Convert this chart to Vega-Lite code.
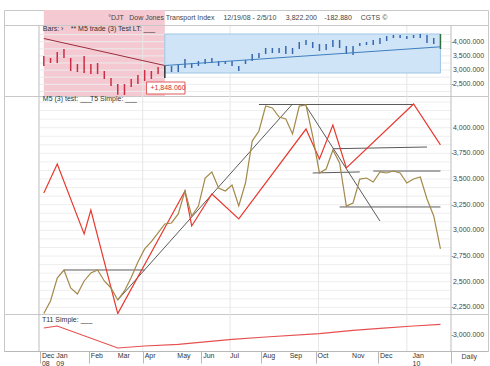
{
  "$schema": "https://vega.github.io/schema/vega-lite/v6.json",
  "padding": {"left": 3, "top": 9, "right": 0, "bottom": 0},
  "spacing": 0,
  "bounds": "flush",
  "background": "white",
  "config": {
    "view": {"stroke": "#c8c8c8", "strokeWidth": 1},
    "font": "Liberation Sans",
    "text": {"font": "Liberation Sans", "fontSize": 7}
  },
  "datasets": {
    "bars": [
      {"date": "2008-12-19", "high": 3497, "low": 3145, "phase": "down"},
      {"date": "2008-12-26", "high": 3426, "low": 3250, "phase": "down"},
      {"date": "2009-01-02", "high": 3637, "low": 3250, "phase": "down"},
      {"date": "2009-01-09", "high": 3743, "low": 3426, "phase": "down"},
      {"date": "2009-01-16", "high": 3426, "low": 2969, "phase": "down"},
      {"date": "2009-01-23", "high": 3215, "low": 2933, "phase": "down"},
      {"date": "2009-01-30", "high": 3497, "low": 2898, "phase": "down"},
      {"date": "2009-02-06", "high": 3215, "low": 2863, "phase": "down"},
      {"date": "2009-02-13", "high": 3250, "low": 2863, "phase": "down"},
      {"date": "2009-02-20", "high": 2969, "low": 2687, "phase": "down"},
      {"date": "2009-02-27", "high": 2722, "low": 2441, "phase": "down"},
      {"date": "2009-03-06", "high": 2511, "low": 2134, "phase": "down"},
      {"date": "2009-03-13", "high": 2511, "low": 2124, "phase": "down"},
      {"date": "2009-03-20", "high": 2687, "low": 2405, "phase": "down"},
      {"date": "2009-03-27", "high": 2828, "low": 2511, "phase": "down"},
      {"date": "2009-04-03", "high": 3004, "low": 2617, "phase": "down"},
      {"date": "2009-04-10", "high": 2969, "low": 2687, "phase": "down"},
      {"date": "2009-04-17", "high": 3109, "low": 2863, "phase": "down"},
      {"date": "2009-04-24", "high": 3145, "low": 2722, "phase": "pivot"},
      {"date": "2009-05-01", "high": 3145, "low": 2933, "phase": "up"},
      {"date": "2009-05-08", "high": 3215, "low": 2933, "phase": "up"},
      {"date": "2009-05-15", "high": 3391, "low": 3074, "phase": "up"},
      {"date": "2009-05-22", "high": 3250, "low": 3074, "phase": "up"},
      {"date": "2009-05-29", "high": 3321, "low": 3145, "phase": "up"},
      {"date": "2009-06-05", "high": 3391, "low": 3215, "phase": "up"},
      {"date": "2009-06-12", "high": 3426, "low": 3250, "phase": "up"},
      {"date": "2009-06-19", "high": 3321, "low": 3145, "phase": "up"},
      {"date": "2009-06-26", "high": 3321, "low": 3215, "phase": "up"},
      {"date": "2009-07-03", "high": 3321, "low": 3145, "phase": "up"},
      {"date": "2009-07-10", "high": 3145, "low": 2969, "phase": "up"},
      {"date": "2009-07-17", "high": 3356, "low": 3215, "phase": "up"},
      {"date": "2009-07-24", "high": 3567, "low": 3321, "phase": "up"},
      {"date": "2009-07-31", "high": 3602, "low": 3426, "phase": "up"},
      {"date": "2009-08-07", "high": 3778, "low": 3567, "phase": "up"},
      {"date": "2009-08-14", "high": 3778, "low": 3602, "phase": "up"},
      {"date": "2009-08-21", "high": 3778, "low": 3602, "phase": "up"},
      {"date": "2009-08-28", "high": 3849, "low": 3567, "phase": "up"},
      {"date": "2009-09-04", "high": 3778, "low": 3567, "phase": "up"},
      {"date": "2009-09-11", "high": 3989, "low": 3743, "phase": "up"},
      {"date": "2009-09-18", "high": 4060, "low": 3884, "phase": "up"},
      {"date": "2009-09-25", "high": 3989, "low": 3778, "phase": "up"},
      {"date": "2009-10-02", "high": 3919, "low": 3673, "phase": "up"},
      {"date": "2009-10-09", "high": 3919, "low": 3708, "phase": "up"},
      {"date": "2009-10-16", "high": 4060, "low": 3813, "phase": "up"},
      {"date": "2009-10-23", "high": 4060, "low": 3778, "phase": "up"},
      {"date": "2009-10-30", "high": 3849, "low": 3567, "phase": "up"},
      {"date": "2009-11-06", "high": 3849, "low": 3532, "phase": "up"},
      {"date": "2009-11-13", "high": 3954, "low": 3849, "phase": "up"},
      {"date": "2009-11-20", "high": 3989, "low": 3884, "phase": "up"},
      {"date": "2009-11-27", "high": 4060, "low": 3884, "phase": "up"},
      {"date": "2009-12-04", "high": 4130, "low": 3919, "phase": "up"},
      {"date": "2009-12-11", "high": 4201, "low": 4025, "phase": "up"},
      {"date": "2009-12-18", "high": 4236, "low": 4130, "phase": "up"},
      {"date": "2009-12-25", "high": 4236, "low": 4130, "phase": "up"},
      {"date": "2010-01-01", "high": 4201, "low": 4095, "phase": "up"},
      {"date": "2010-01-08", "high": 4236, "low": 4130, "phase": "up"},
      {"date": "2010-01-15", "high": 4271, "low": 4130, "phase": "up"},
      {"date": "2010-01-22", "high": 4236, "low": 3954, "phase": "up"},
      {"date": "2010-01-29", "high": 4130, "low": 3919, "phase": "up"},
      {"date": "2010-02-05", "high": 4271, "low": 3743, "phase": "last"}
    ],
    "t5": [
      {"date": "2008-12-19", "value": 2190}, {"date": "2008-12-26", "value": 2312},
      {"date": "2009-01-02", "value": 2536}, {"date": "2009-01-09", "value": 2614},
      {"date": "2009-01-16", "value": 2439}, {"date": "2009-01-23", "value": 2380},
      {"date": "2009-01-30", "value": 2507}, {"date": "2009-02-06", "value": 2585},
      {"date": "2009-02-13", "value": 2614}, {"date": "2009-02-20", "value": 2507},
      {"date": "2009-02-27", "value": 2439}, {"date": "2009-03-06", "value": 2322},
      {"date": "2009-03-13", "value": 2410}, {"date": "2009-03-20", "value": 2540},
      {"date": "2009-03-27", "value": 2692}, {"date": "2009-04-03", "value": 2819},
      {"date": "2009-04-10", "value": 2890}, {"date": "2009-04-17", "value": 2975},
      {"date": "2009-04-24", "value": 3062}, {"date": "2009-05-01", "value": 3072},
      {"date": "2009-05-08", "value": 3160}, {"date": "2009-05-15", "value": 3383},
      {"date": "2009-05-22", "value": 3140}, {"date": "2009-05-29", "value": 3237},
      {"date": "2009-06-05", "value": 3510}, {"date": "2009-06-12", "value": 3569},
      {"date": "2009-06-19", "value": 3413}, {"date": "2009-06-26", "value": 3383},
      {"date": "2009-07-03", "value": 3442}, {"date": "2009-07-10", "value": 3237},
      {"date": "2009-07-17", "value": 3461}, {"date": "2009-07-24", "value": 3870},
      {"date": "2009-07-31", "value": 3968}, {"date": "2009-08-07", "value": 4211},
      {"date": "2009-08-14", "value": 4192}, {"date": "2009-08-21", "value": 4104},
      {"date": "2009-08-28", "value": 4085}, {"date": "2009-09-04", "value": 3939},
      {"date": "2009-09-11", "value": 4211}, {"date": "2009-09-18", "value": 4221},
      {"date": "2009-09-25", "value": 3919}, {"date": "2009-10-02", "value": 3559},
      {"date": "2009-10-09", "value": 3598}, {"date": "2009-10-16", "value": 3783},
      {"date": "2009-10-23", "value": 3656}, {"date": "2009-10-30", "value": 3237},
      {"date": "2009-11-06", "value": 3267}, {"date": "2009-11-13", "value": 3500},
      {"date": "2009-11-20", "value": 3510}, {"date": "2009-11-27", "value": 3471},
      {"date": "2009-12-04", "value": 3569}, {"date": "2009-12-11", "value": 3559},
      {"date": "2009-12-18", "value": 3578}, {"date": "2009-12-25", "value": 3559},
      {"date": "2010-01-01", "value": 3461}, {"date": "2010-01-08", "value": 3500},
      {"date": "2010-01-15", "value": 3520}, {"date": "2010-01-22", "value": 3306},
      {"date": "2010-01-29", "value": 3140}, {"date": "2010-02-05", "value": 2819}
    ],
    "m5": [
      {"date": "2008-12-19", "value": 3364}, {"date": "2009-01-02", "value": 3646},
      {"date": "2009-01-30", "value": 2965}, {"date": "2009-02-06", "value": 3198},
      {"date": "2009-03-06", "value": 2190}, {"date": "2009-05-15", "value": 3383},
      {"date": "2009-05-22", "value": 3043}, {"date": "2009-06-12", "value": 3354},
      {"date": "2009-07-10", "value": 3111}, {"date": "2009-09-18", "value": 3987},
      {"date": "2009-10-02", "value": 3695}, {"date": "2009-10-16", "value": 4026},
      {"date": "2009-10-30", "value": 3608}, {"date": "2010-01-08", "value": 4231},
      {"date": "2010-02-05", "value": 3832}
    ],
    "trend": [
      {"seg": 1, "date": "2009-01-09", "value": 2614}, {"seg": 1, "date": "2009-04-03", "value": 2614},
      {"seg": 2, "date": "2009-03-06", "value": 2322}, {"seg": 2, "date": "2009-09-04", "value": 4231},
      {"seg": 3, "date": "2009-07-31", "value": 4226}, {"seg": 3, "date": "2010-01-08", "value": 4226},
      {"seg": 4, "date": "2009-09-18", "value": 4211}, {"seg": 4, "date": "2009-12-04", "value": 3091},
      {"seg": 5, "date": "2009-10-16", "value": 3795}, {"seg": 5, "date": "2010-01-22", "value": 3812},
      {"seg": 6, "date": "2009-09-25", "value": 3559}, {"seg": 6, "date": "2009-11-13", "value": 3569},
      {"seg": 7, "date": "2009-11-27", "value": 3578}, {"seg": 7, "date": "2010-02-05", "value": 3578},
      {"seg": 8, "date": "2009-10-23", "value": 3228}, {"seg": 8, "date": "2010-02-05", "value": 3228}
    ],
    "t11": [
      {"date": "2008-12-19", "value": 3070}, {"date": "2009-01-02", "value": 3090},
      {"date": "2009-03-06", "value": 2870}, {"date": "2009-04-03", "value": 2890},
      {"date": "2009-05-08", "value": 2907}, {"date": "2009-07-03", "value": 2957},
      {"date": "2009-08-07", "value": 2980}, {"date": "2009-10-02", "value": 3013},
      {"date": "2009-11-06", "value": 3047}, {"date": "2009-12-04", "value": 3067},
      {"date": "2010-01-08", "value": 3090}, {"date": "2010-02-05", "value": 3107}
    ],
    "quarters": [{"date": "2009-04-01"}, {"date": "2009-07-01"}, {"date": "2009-10-01"}, {"date": "2010-01-01"}],
    "borders": [{"date": "2008-12-14"}, {"date": "2010-02-16"}],
    "gridMain": [
      {"value": 2250}, {"value": 2333.3}, {"value": 2416.7}, {"value": 2500}, {"value": 2583.3},
      {"value": 2666.7}, {"value": 2750}, {"value": 2833.3}, {"value": 2916.7}, {"value": 3000},
      {"value": 3083.3}, {"value": 3166.7}, {"value": 3250}, {"value": 3333.3}, {"value": 3416.7},
      {"value": 3500}, {"value": 3583.3}, {"value": 3666.7}, {"value": 3750}, {"value": 3833.3},
      {"value": 3916.7}, {"value": 4000}, {"value": 4083.3}, {"value": 4166.7}, {"value": 4250}
    ],
    "gridTop": [
      {"value": 2250}, {"value": 2500}, {"value": 2750}, {"value": 3000}, {"value": 3250},
      {"value": 3500}, {"value": 3750}, {"value": 4000}, {"value": 4250}
    ],
    "ticksTop": [{"date": "2010-02-18", "value": 2500}, {"date": "2010-02-18", "value": 3000}, {"date": "2010-02-18", "value": 3500}, {"date": "2010-02-18", "value": 4000}],
    "ticksMain": [
      {"date": "2010-02-18", "value": 2250}, {"date": "2010-02-18", "value": 2500}, {"date": "2010-02-18", "value": 2750}, {"date": "2010-02-18", "value": 3000},
      {"date": "2010-02-18", "value": 3250}, {"date": "2010-02-18", "value": 3500}, {"date": "2010-02-18", "value": 3750}, {"date": "2010-02-18", "value": 4000}
    ],
    "months": [
      {"date": "2008-12-17", "label": "Dec\n08"}, {"date": "2009-01-01", "label": "Jan\n09"},
      {"date": "2009-02-06", "label": "Feb"}, {"date": "2009-03-06", "label": "Mar"},
      {"date": "2009-04-03", "label": "Apr"}, {"date": "2009-05-07", "label": "May"},
      {"date": "2009-06-03", "label": "Jun"}, {"date": "2009-07-01", "label": "Jul"},
      {"date": "2009-08-04", "label": "Aug"}, {"date": "2009-09-01", "label": "Sep"},
      {"date": "2009-09-30", "label": "Oct"}, {"date": "2009-11-05", "label": "Nov"},
      {"date": "2009-12-04", "label": "Dec"}, {"date": "2010-01-07", "label": "Jan\n10"}
    ],
    "titles": [
      {"date": "2009-02-24", "value": 4834, "label": "°DJT"},
      {"date": "2009-03-18", "value": 4834, "label": "Dow Jones Transport Index"},
      {"date": "2009-06-24", "value": 4834, "label": "12/19/08 - 2/5/10"},
      {"date": "2009-08-28", "value": 4834, "label": "3,822.200"},
      {"date": "2009-10-07", "value": 4834, "label": "-182.880"},
      {"date": "2009-11-14", "value": 4834, "label": "CGTS ©"}
    ]
  },
  "vconcat": [
    {
      "width": 484,
      "height": 86,
      "layer": [
        {
          "data": {"values": [{"start": "2008-12-19", "end": "2009-04-24"}]},
          "mark": {"type": "rect", "color": "#f4c9d2"},
          "encoding": {
            "x": {"field": "start", "type": "temporal", "scale": {"type": "utc", "domain": [1226064384000, 1269605664000], "nice": false}, "axis": null},
            "x2": {"field": "end"},
            "y": {"datum": 5115.8, "type": "quantitative", "scale": {"domain": [2088.6, 5115.8], "nice": false, "zero": false}, "axis": {"orient": "right", "offset": -37, "values": [2500, 3000, 3500, 4000], "labels": false, "title": null, "domain": false, "grid": false, "tickSize": 2, "tickColor": "#999999"}},
            "y2": {"datum": 2088.6}
          }
        },
        {
          "data": {"name": "gridTop"},
          "mark": {"type": "rule", "color": "#ececec", "strokeWidth": 1},
          "encoding": {
            "x": {"datum": {"year": 2008, "month": 12, "date": 14, "utc": true}, "type": "temporal"},
            "x2": {"datum": {"year": 2010, "month": 2, "date": 16, "utc": true}},
            "y": {"field": "value", "type": "quantitative"}
          }
        },
        {
          "data": {"name": "quarters"},
          "mark": {"type": "rule", "color": "#e6e6e6", "strokeWidth": 1},
          "encoding": {
            "x": {"field": "date", "type": "temporal"},
            "y": {"datum": 4570, "type": "quantitative"},
            "y2": {"datum": 2088.6}
          }
        },
        {
          "data": {"values": [{"start": "2009-04-24", "end": "2010-02-05", "hi": 4271, "lo": 2898}]},
          "mark": {"type": "rect", "fill": "#cfe4f6", "stroke": "#9fc6e6", "strokeWidth": 1},
          "encoding": {
            "x": {"field": "start", "type": "temporal"},
            "x2": {"field": "end"},
            "y": {"field": "hi", "type": "quantitative"},
            "y2": {"field": "lo"}
          }
        },
        {
          "data": {"name": "borders"},
          "mark": {"type": "rule", "color": "#bdbdbd", "strokeWidth": 1},
          "encoding": {
            "x": {"field": "date", "type": "temporal"},
            "y": {"datum": 4570, "type": "quantitative"},
            "y2": {"datum": 2088.6}
          }
        },
        {
          "data": {"values": [{"level": 4570}]},
          "mark": {"type": "rule", "color": "#c8c8c8", "strokeWidth": 1},
          "encoding": {
            "y": {"field": "level", "type": "quantitative"}
          }
        },
        {
          "data": {"name": "bars"},
          "mark": {"type": "rule", "strokeWidth": 1.5},
          "encoding": {
            "x": {"field": "date", "type": "temporal"},
            "y": {"field": "high", "type": "quantitative"},
            "y2": {"field": "low"},
            "color": {"field": "phase", "type": "nominal", "scale": {"domain": ["down", "pivot", "up", "last"], "range": ["#cc2f45", "#333333", "#3768ad", "#2f6f3f"]}, "legend": null}
          }
        },
        {
          "data": {"values": [{"date": "2008-12-19", "value": 4113}, {"date": "2009-04-24", "value": 3162}]},
          "mark": {"type": "line", "color": "#9b2d3c", "strokeWidth": 1},
          "encoding": {
            "x": {"field": "date", "type": "temporal"},
            "y": {"field": "value", "type": "quantitative"}
          }
        },
        {
          "data": {"values": [{"date": "2009-04-24", "value": 3162}, {"date": "2010-02-05", "value": 3820}]},
          "mark": {"type": "line", "color": "#3f7fbf", "strokeWidth": 1},
          "encoding": {
            "x": {"field": "date", "type": "temporal"},
            "y": {"field": "value", "type": "quantitative"}
          }
        },
        {
          "data": {"values": [{"start": "2009-04-05", "end": "2009-05-15", "hi": 2581, "lo": 2159}]},
          "mark": {"type": "rect", "fill": "white", "stroke": "#e05a5a", "strokeWidth": 1},
          "encoding": {
            "x": {"field": "start", "type": "temporal"},
            "x2": {"field": "end"},
            "y": {"field": "hi", "type": "quantitative"},
            "y2": {"field": "lo"}
          }
        },
        {
          "data": {"values": [{"date": "2009-04-09", "value": 2360, "label": "+1,848.060"}]},
          "mark": {"type": "text", "color": "#d03030", "align": "left", "baseline": "middle", "fontSize": 7},
          "encoding": {
            "x": {"field": "date", "type": "temporal"},
            "y": {"field": "value", "type": "quantitative"},
            "text": {"field": "label"}
          }
        },
        {
          "data": {"name": "titles"},
          "mark": {"type": "text", "color": "#444444", "align": "left", "baseline": "middle", "fontSize": 7},
          "encoding": {
            "x": {"field": "date", "type": "temporal"},
            "y": {"field": "value", "type": "quantitative"},
            "text": {"field": "label"}
          }
        },
        {
          "data": {"values": [{"date": "2008-12-18", "value": 4447, "label": "Bars: ›"}, {"date": "2009-01-16", "value": 4447, "label": "** M5 trade (3) Test LT: ___"}]},
          "mark": {"type": "text", "color": "#333333", "align": "left", "baseline": "middle", "fontSize": 7},
          "encoding": {
            "x": {"field": "date", "type": "temporal"},
            "y": {"field": "value", "type": "quantitative"},
            "text": {"field": "label"}
          }
        },
        {
          "data": {"name": "ticksTop"},
          "mark": {"type": "text", "color": "#444444", "align": "left", "baseline": "middle", "fontSize": 7},
          "encoding": {
            "x": {"field": "date", "type": "temporal"},
            "y": {"field": "value", "type": "quantitative"},
            "text": {"field": "value", "type": "quantitative", "format": ",.3f"}
          }
        }
      ]
    },
    {
      "width": 484,
      "height": 218,
      "layer": [
        {
          "data": {"name": "gridMain"},
          "mark": {"type": "rule", "color": "#eeeeee", "strokeWidth": 1},
          "encoding": {
            "x": {"datum": {"year": 2008, "month": 12, "date": 14, "utc": true}, "type": "temporal", "scale": {"type": "utc", "domain": [1226064384000, 1269605664000], "nice": false}, "axis": null},
            "x2": {"datum": {"year": 2010, "month": 2, "date": 16, "utc": true}},
            "y": {"field": "value", "type": "quantitative", "scale": {"domain": [2185.4, 4308.8], "nice": false, "zero": false}, "axis": {"orient": "right", "offset": -37, "values": [2250, 2500, 2750, 3000, 3250, 3500, 3750, 4000], "labels": false, "title": null, "domain": false, "grid": false, "tickSize": 2, "tickColor": "#999999"}}
          }
        },
        {
          "data": {"name": "quarters"},
          "mark": {"type": "rule", "color": "#e6e6e6", "strokeWidth": 1},
          "encoding": {"x": {"field": "date", "type": "temporal"}}
        },
        {
          "data": {"name": "borders"},
          "mark": {"type": "rule", "color": "#bdbdbd", "strokeWidth": 1},
          "encoding": {"x": {"field": "date", "type": "temporal"}}
        },
        {
          "data": {"name": "trend"},
          "mark": {"type": "line", "color": "#5a5a5a", "strokeWidth": 1},
          "encoding": {
            "x": {"field": "date", "type": "temporal"},
            "y": {"field": "value", "type": "quantitative"},
            "detail": {"field": "seg", "type": "nominal"}
          }
        },
        {
          "data": {"name": "m5"},
          "mark": {"type": "line", "color": "#e8392e", "strokeWidth": 1.2},
          "encoding": {
            "x": {"field": "date", "type": "temporal"},
            "y": {"field": "value", "type": "quantitative"}
          }
        },
        {
          "data": {"name": "t5"},
          "mark": {"type": "line", "color": "#a3894a", "strokeWidth": 1.2},
          "encoding": {
            "x": {"field": "date", "type": "temporal"},
            "y": {"field": "value", "type": "quantitative"}
          }
        },
        {
          "data": {"values": [{"date": "2008-12-18", "value": 4280, "label": "M5 (3) test: ___"}, {"date": "2009-02-05", "value": 4280, "label": "T5 Simple: ___"}]},
          "mark": {"type": "text", "color": "#333333", "align": "left", "baseline": "middle", "fontSize": 7},
          "encoding": {
            "x": {"field": "date", "type": "temporal"},
            "y": {"field": "value", "type": "quantitative"},
            "text": {"field": "label"}
          }
        },
        {
          "data": {"name": "ticksMain"},
          "mark": {"type": "text", "color": "#444444", "align": "left", "baseline": "middle", "fontSize": 7},
          "encoding": {
            "x": {"field": "date", "type": "temporal"},
            "y": {"field": "value", "type": "quantitative"},
            "text": {"field": "value", "type": "quantitative", "format": ",.3f"}
          }
        }
      ]
    },
    {
      "width": 484,
      "height": 37,
      "layer": [
        {
          "data": {"name": "quarters"},
          "mark": {"type": "rule", "color": "#e6e6e6", "strokeWidth": 1},
          "encoding": {"x": {"field": "date", "type": "temporal", "scale": {"type": "utc", "domain": [1226064384000, 1269605664000], "nice": false}, "axis": {
              "orient": "bottom",
              "values": [
                {"year": 2008, "month": 12, "date": 15, "utc": true},
                {"year": 2008, "month": 12, "date": 30, "utc": true},
                {"year": 2009, "month": 2, "date": 4, "utc": true},
                {"year": 2009, "month": 3, "date": 4, "utc": true},
                {"year": 2009, "month": 4, "date": 1, "utc": true},
                {"year": 2009, "month": 5, "date": 5, "utc": true},
                {"year": 2009, "month": 6, "date": 1, "utc": true},
                {"year": 2009, "month": 6, "date": 29, "utc": true},
                {"year": 2009, "month": 8, "date": 2, "utc": true},
                {"year": 2009, "month": 8, "date": 30, "utc": true},
                {"year": 2009, "month": 9, "date": 28, "utc": true},
                {"year": 2009, "month": 11, "date": 3, "utc": true},
                {"year": 2009, "month": 12, "date": 2, "utc": true},
                {"year": 2010, "month": 1, "date": 5, "utc": true},
                {"year": 2010, "month": 2, "date": 16, "utc": true}
              ],
              "labels": false,
              "title": null,
              "grid": false,
              "tickSize": 12,
              "tickColor": "#b8b8b8",
              "domainColor": "#b8b8b8"
            }}}
        },
        {
          "data": {"name": "borders"},
          "mark": {"type": "rule", "color": "#bdbdbd", "strokeWidth": 1},
          "encoding": {"x": {"field": "date", "type": "temporal"}}
        },
        {
          "data": {"name": "t11"},
          "mark": {"type": "line", "color": "#e65050", "strokeWidth": 1.2},
          "encoding": {
            "x": {"field": "date", "type": "temporal"},
            "y": {"field": "value", "type": "quantitative", "scale": {"domain": [2840, 3210], "nice": false, "zero": false}, "axis": {"orient": "right", "offset": -37, "values": [3000], "labels": false, "title": null, "domain": false, "grid": false, "tickSize": 2, "tickColor": "#999999"}}
          }
        },
        {
          "data": {"values": [{"date": "2008-12-17", "value": 3153, "label": "T11 Simple: ___"}]},
          "mark": {"type": "text", "color": "#333333", "align": "left", "baseline": "middle", "fontSize": 7},
          "encoding": {
            "x": {"field": "date", "type": "temporal"},
            "y": {"field": "value", "type": "quantitative"},
            "text": {"field": "label"}
          }
        },
        {
          "data": {"values": [{"date": "2010-02-18", "value": 3000}]},
          "mark": {"type": "text", "color": "#444444", "align": "left", "baseline": "middle", "fontSize": 7},
          "encoding": {
            "x": {"field": "date", "type": "temporal"},
            "y": {"field": "value", "type": "quantitative"},
            "text": {"field": "value", "type": "quantitative", "format": ",.3f"}
          }
        },
        {
          "data": {"name": "months"},
          "mark": {"type": "text", "color": "#333333", "align": "left", "baseline": "top", "fontSize": 7, "lineBreak": "\n", "lineHeight": 7.5},
          "encoding": {
            "x": {"field": "date", "type": "temporal"},
            "y": {"datum": 2828, "type": "quantitative"},
            "text": {"field": "label"}
          }
        },
        {
          "data": {"values": [{"date": "2010-03-07", "value": 2780, "label": "Daily"}]},
          "mark": {"type": "text", "color": "#444444", "align": "center", "baseline": "middle", "fontSize": 7},
          "encoding": {
            "x": {"field": "date", "type": "temporal"},
            "y": {"field": "value", "type": "quantitative"},
            "text": {"field": "label"}
          }
        }
      ]
    }
  ]
}
